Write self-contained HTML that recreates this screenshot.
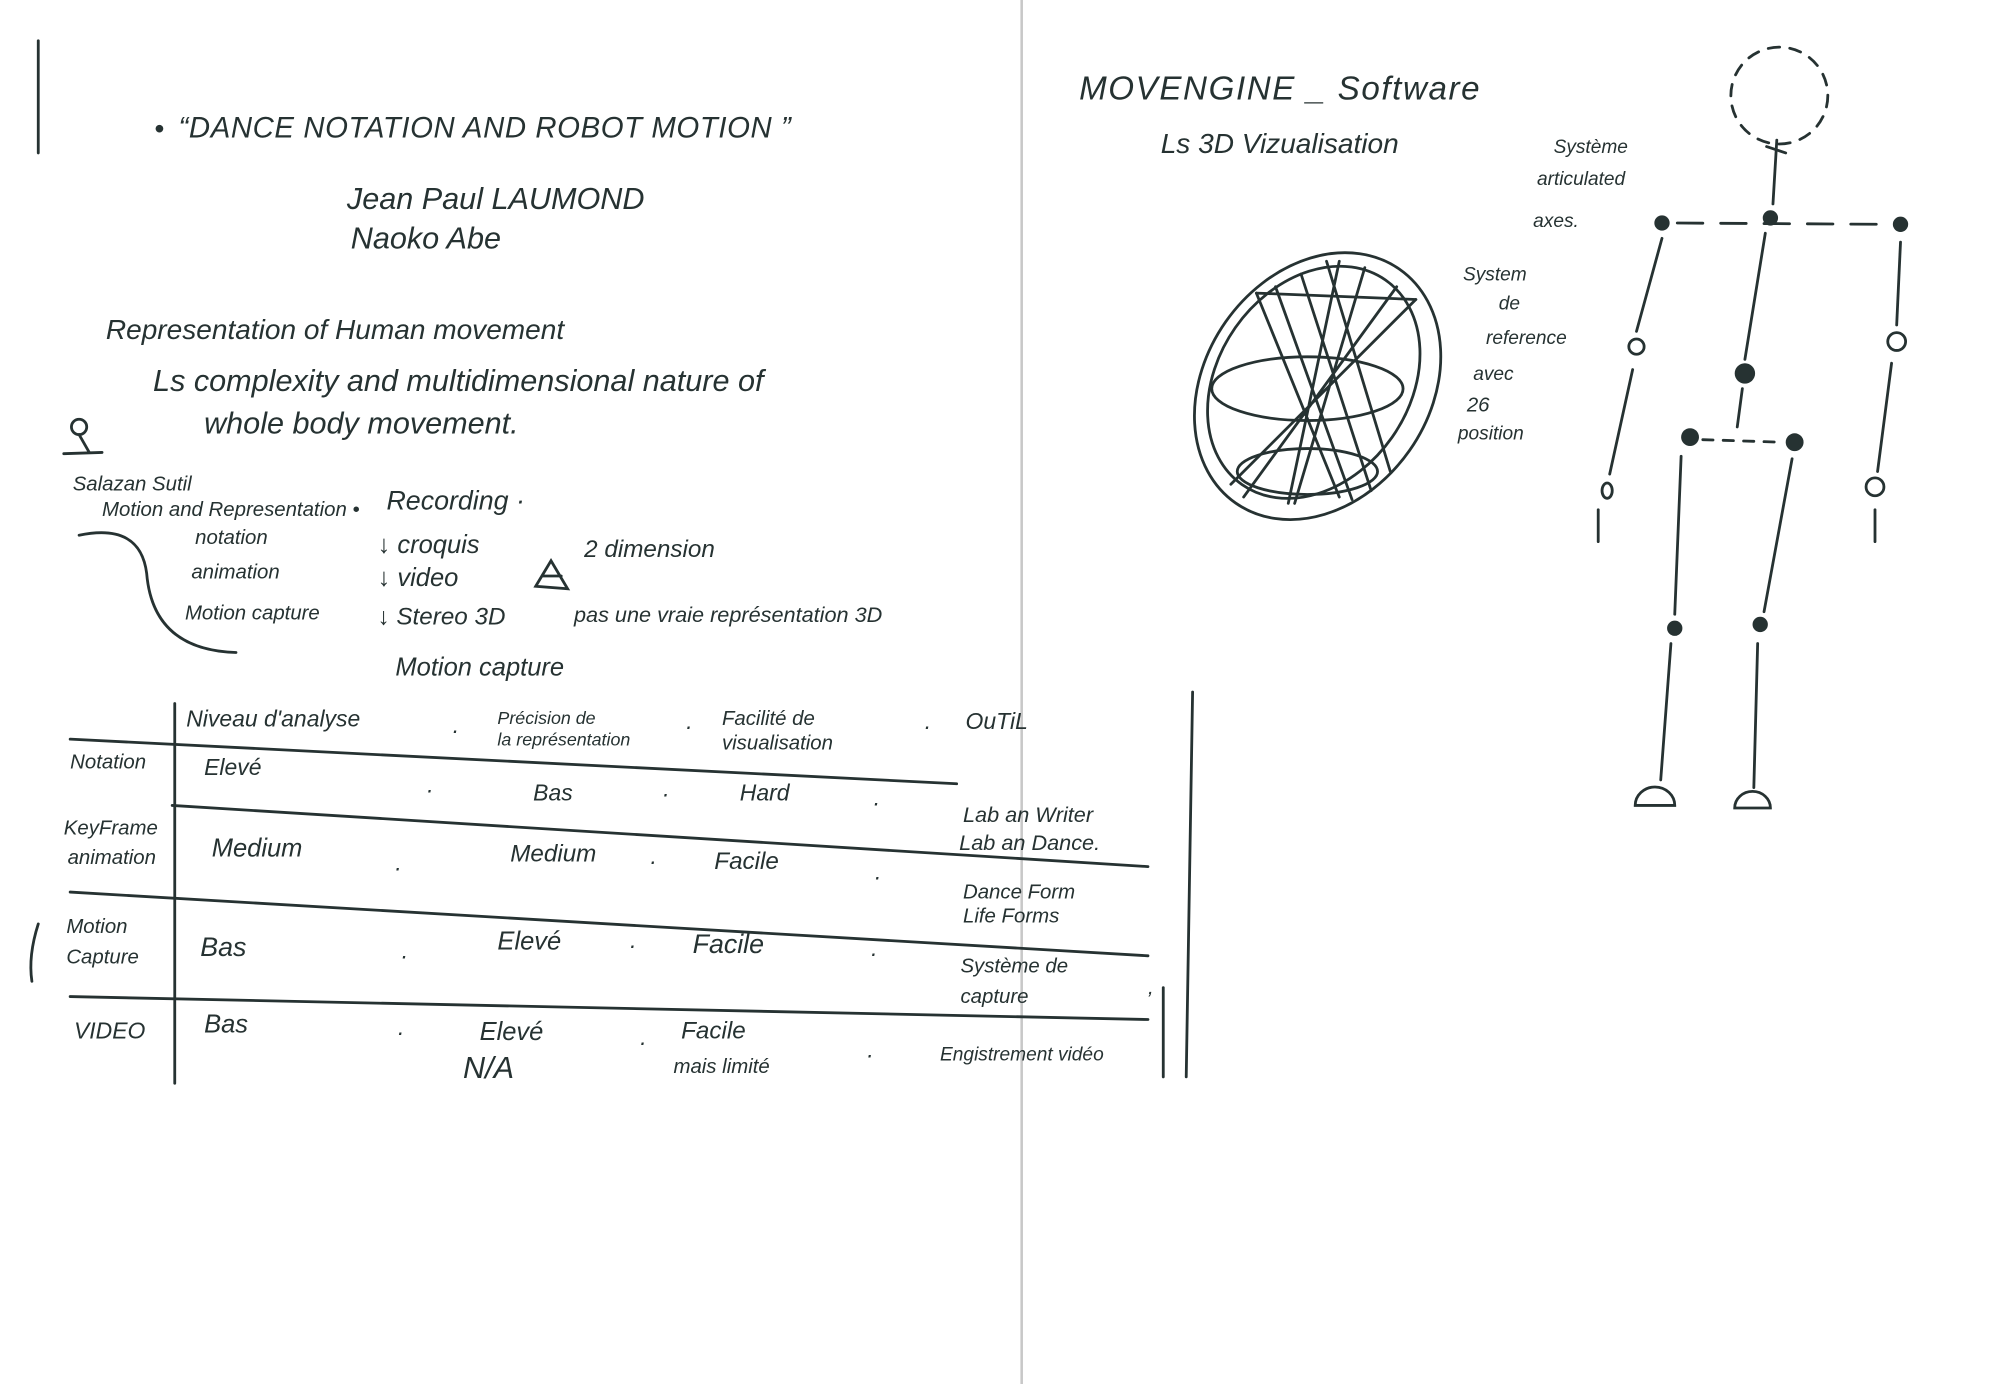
<!DOCTYPE html>
<html><head><meta charset="utf-8"><style>
html,body{margin:0;padding:0;background:#fff;}
svg{display:block;}
text{font-family:"Liberation Sans",sans-serif;fill:#263232;font-style:italic;}
</style></head><body>
<svg width="2000" height="1384" viewBox="0 0 1568 1086" preserveAspectRatio="none" xmlns="http://www.w3.org/2000/svg">
<rect width="1568" height="1086" fill="#fff"/>
<line x1="801" y1="0" x2="801" y2="1086" stroke="#c8c8c8" stroke-width="2"/>
<g stroke="#263232" stroke-width="2.2" fill="none" stroke-linecap="round">
<line x1="30" y1="32" x2="30" y2="120"/>
<line x1="137" y1="552" x2="137" y2="850"/>
<line x1="55" y1="580" x2="750" y2="615"/>
<line x1="135" y1="632" x2="900" y2="680"/>
<line x1="55" y1="700" x2="900" y2="750"/>
<line x1="55" y1="782" x2="900" y2="800"/>
<line x1="935" y1="543" x2="930" y2="845"/>
<line x1="912" y1="775" x2="912" y2="845"/>
<path d="M62 420 Q110 410 115 450 Q120 510 185 512"/>
<path d="M30 725 Q22 750 25 770"/>
<circle cx="62" cy="335" r="6"/>
<line x1="62" y1="341" x2="70" y2="355"/><line x1="50" y1="356" x2="80" y2="355"/>
<ellipse cx="1033" cy="303" rx="88" ry="112" transform="rotate(35 1033 303)"/>
<ellipse cx="1030" cy="300" rx="75" ry="98" transform="rotate(35 1030 300)"/>
<ellipse cx="1025" cy="305" rx="75" ry="25"/>
<ellipse cx="1025" cy="370" rx="55" ry="18"/>
<line x1="985" y1="230" x2="1110" y2="235"/>
<path d="M985 230 L1050 390 M1000 225 L1060 392 M1110 235 L965 380 M1095 225 L975 390 M1050 205 L1010 395 M1040 205 L1090 370 M1070 210 L1015 395 M1020 215 L1075 385"/>
<circle cx="1395" cy="75" r="38" stroke-dasharray="9 8"/>
<line x1="1393" y1="110" x2="1390" y2="160"/>
<line x1="1385" y1="115" x2="1400" y2="120"/>
<line x1="1315" y1="175" x2="1475" y2="176" stroke-dasharray="20 14"/>
<line x1="1303" y1="187" x2="1283" y2="260"/>
<circle cx="1283" cy="272" r="6"/>
<line x1="1280" y1="290" x2="1262" y2="372"/>
<ellipse cx="1260" cy="385" rx="4" ry="6"/>
<line x1="1253" y1="400" x2="1253" y2="425"/>
<line x1="1490" y1="190" x2="1487" y2="255"/>
<circle cx="1487" cy="268" r="7"/>
<line x1="1483" y1="285" x2="1472" y2="370"/>
<circle cx="1470" cy="382" r="7"/>
<line x1="1470" y1="400" x2="1470" y2="425"/>
<line x1="1384" y1="183" x2="1368" y2="282"/>
<line x1="1366" y1="305" x2="1362" y2="335"/>
<line x1="1335" y1="345" x2="1397" y2="347" stroke-dasharray="8 8"/>
<line x1="1318" y1="358" x2="1313" y2="482"/>
<line x1="1310" y1="505" x2="1302" y2="612"/>
<path d="M1282 632 A15 14 0 0 1 1313 632 Z"/>
<line x1="1405" y1="360" x2="1383" y2="480"/>
<line x1="1378" y1="505" x2="1375" y2="618"/>
<path d="M1360 634 A14 13 0 0 1 1388 634 Z"/>
<path d="M420 460 L432 440 L445 462 Z M425 452 L440 452"/>
</g>
<g fill="#263232">
<circle cx="1303" cy="175" r="6"/><circle cx="1388" cy="171" r="6"/><circle cx="1490" cy="176" r="6"/>
<circle cx="1368" cy="293" r="8"/><circle cx="1325" cy="343" r="7"/><circle cx="1407" cy="347" r="7"/>
<circle cx="1313" cy="493" r="6"/><circle cx="1380" cy="490" r="6"/>
<circle cx="125" cy="101" r="3"/>
</g>
<text x="140" y="108" font-size="23" textLength="480">“DANCE NOTATION AND ROBOT MOTION ”</text>
<text x="272" y="164" font-size="24">Jean Paul LAUMOND</text>
<text x="275" y="195" font-size="24">Naoko Abe</text>
<text x="83" y="266" font-size="22">Representation of Human movement</text>
<text x="120" y="307" font-size="24">Ls complexity and multidimensional nature of</text>
<text x="160" y="340" font-size="24">whole body movement.</text>
<text x="57" y="385" font-size="16">Salazan Sutil</text>
<text x="80" y="405" font-size="16">Motion and Representation •</text>
<text x="303" y="400" font-size="21">Recording ·</text>
<text x="153" y="427" font-size="16">notation</text>
<text x="296" y="434" font-size="20">↓ croquis</text>
<text x="458" y="437" font-size="19">2 dimension</text>
<text x="150" y="454" font-size="16">animation</text>
<text x="296" y="460" font-size="20">↓ video</text>
<text x="145" y="486" font-size="16">Motion capture</text>
<text x="296" y="490" font-size="19">↓ Stereo 3D</text>
<text x="450" y="488" font-size="17">pas une vraie représentation 3D</text>
<text x="310" y="530" font-size="20">Motion capture</text>
<text x="146" y="570" font-size="18">Niveau d'analyse</text>
<text x="355" y="575" font-size="18">.</text>
<text x="390" y="568" font-size="14">Précision de</text>
<text x="390" y="585" font-size="14">la représentation</text>
<text x="538" y="572" font-size="18">.</text>
<text x="566" y="569" font-size="16">Facilité de</text>
<text x="566" y="588" font-size="16">visualisation</text>
<text x="725" y="572" font-size="18">.</text>
<text x="757" y="572" font-size="18">OuTiL</text>
<text x="55" y="603" font-size="16">Notation</text>
<text x="160" y="608" font-size="18">Elevé</text>
<text x="335" y="622" font-size="18">.</text>
<text x="418" y="628" font-size="18">Bas</text>
<text x="520" y="625" font-size="18">.</text>
<text x="580" y="628" font-size="18">Hard</text>
<text x="685" y="632" font-size="18">.</text>
<text x="755" y="645" font-size="17">Lab an Writer</text>
<text x="752" y="667" font-size="17">Lab an Dance.</text>
<text x="50" y="655" font-size="16">KeyFrame</text>
<text x="53" y="678" font-size="16">animation</text>
<text x="166" y="672" font-size="20">Medium</text>
<text x="310" y="683" font-size="18">.</text>
<text x="400" y="676" font-size="19">Medium</text>
<text x="510" y="678" font-size="18">.</text>
<text x="560" y="682" font-size="19">Facile</text>
<text x="686" y="690" font-size="18">.</text>
<text x="755" y="705" font-size="16">Dance Form</text>
<text x="755" y="724" font-size="16">Life Forms</text>
<text x="52" y="732" font-size="16">Motion</text>
<text x="52" y="756" font-size="16">Capture</text>
<text x="157" y="750" font-size="21">Bas</text>
<text x="315" y="752" font-size="18">.</text>
<text x="390" y="745" font-size="20">Elevé</text>
<text x="494" y="744" font-size="18">.</text>
<text x="543" y="748" font-size="21">Facile</text>
<text x="683" y="750" font-size="18">.</text>
<text x="753" y="763" font-size="16">Système de</text>
<text x="753" y="787" font-size="16">capture</text>
<text x="900" y="780" font-size="16">,</text>
<text x="58" y="815" font-size="18">VIDEO</text>
<text x="160" y="810" font-size="20">Bas</text>
<text x="312" y="812" font-size="18">.</text>
<text x="376" y="816" font-size="20">Elevé</text>
<text x="363" y="846" font-size="24">N/A</text>
<text x="502" y="820" font-size="18">.</text>
<text x="534" y="815" font-size="19">Facile</text>
<text x="528" y="842" font-size="16">mais limité</text>
<text x="680" y="830" font-size="18">.</text>
<text x="737" y="832" font-size="15">Engistrement vidéo</text>
<text x="846" y="78" font-size="26" textLength="314">MOVENGINE _ Software</text>
<text x="910" y="120" font-size="22">Ls 3D Vizualisation</text>
<text x="1218" y="120" font-size="15">Système</text>
<text x="1205" y="145" font-size="15">articulated</text>
<text x="1202" y="178" font-size="15">axes.</text>
<text x="1147" y="220" font-size="15">System</text>
<text x="1175" y="243" font-size="15">de</text>
<text x="1165" y="270" font-size="15">reference</text>
<text x="1155" y="298" font-size="15">avec</text>
<text x="1150" y="323" font-size="16">26</text>
<text x="1143" y="345" font-size="15">position</text>
</svg>
</body></html>
